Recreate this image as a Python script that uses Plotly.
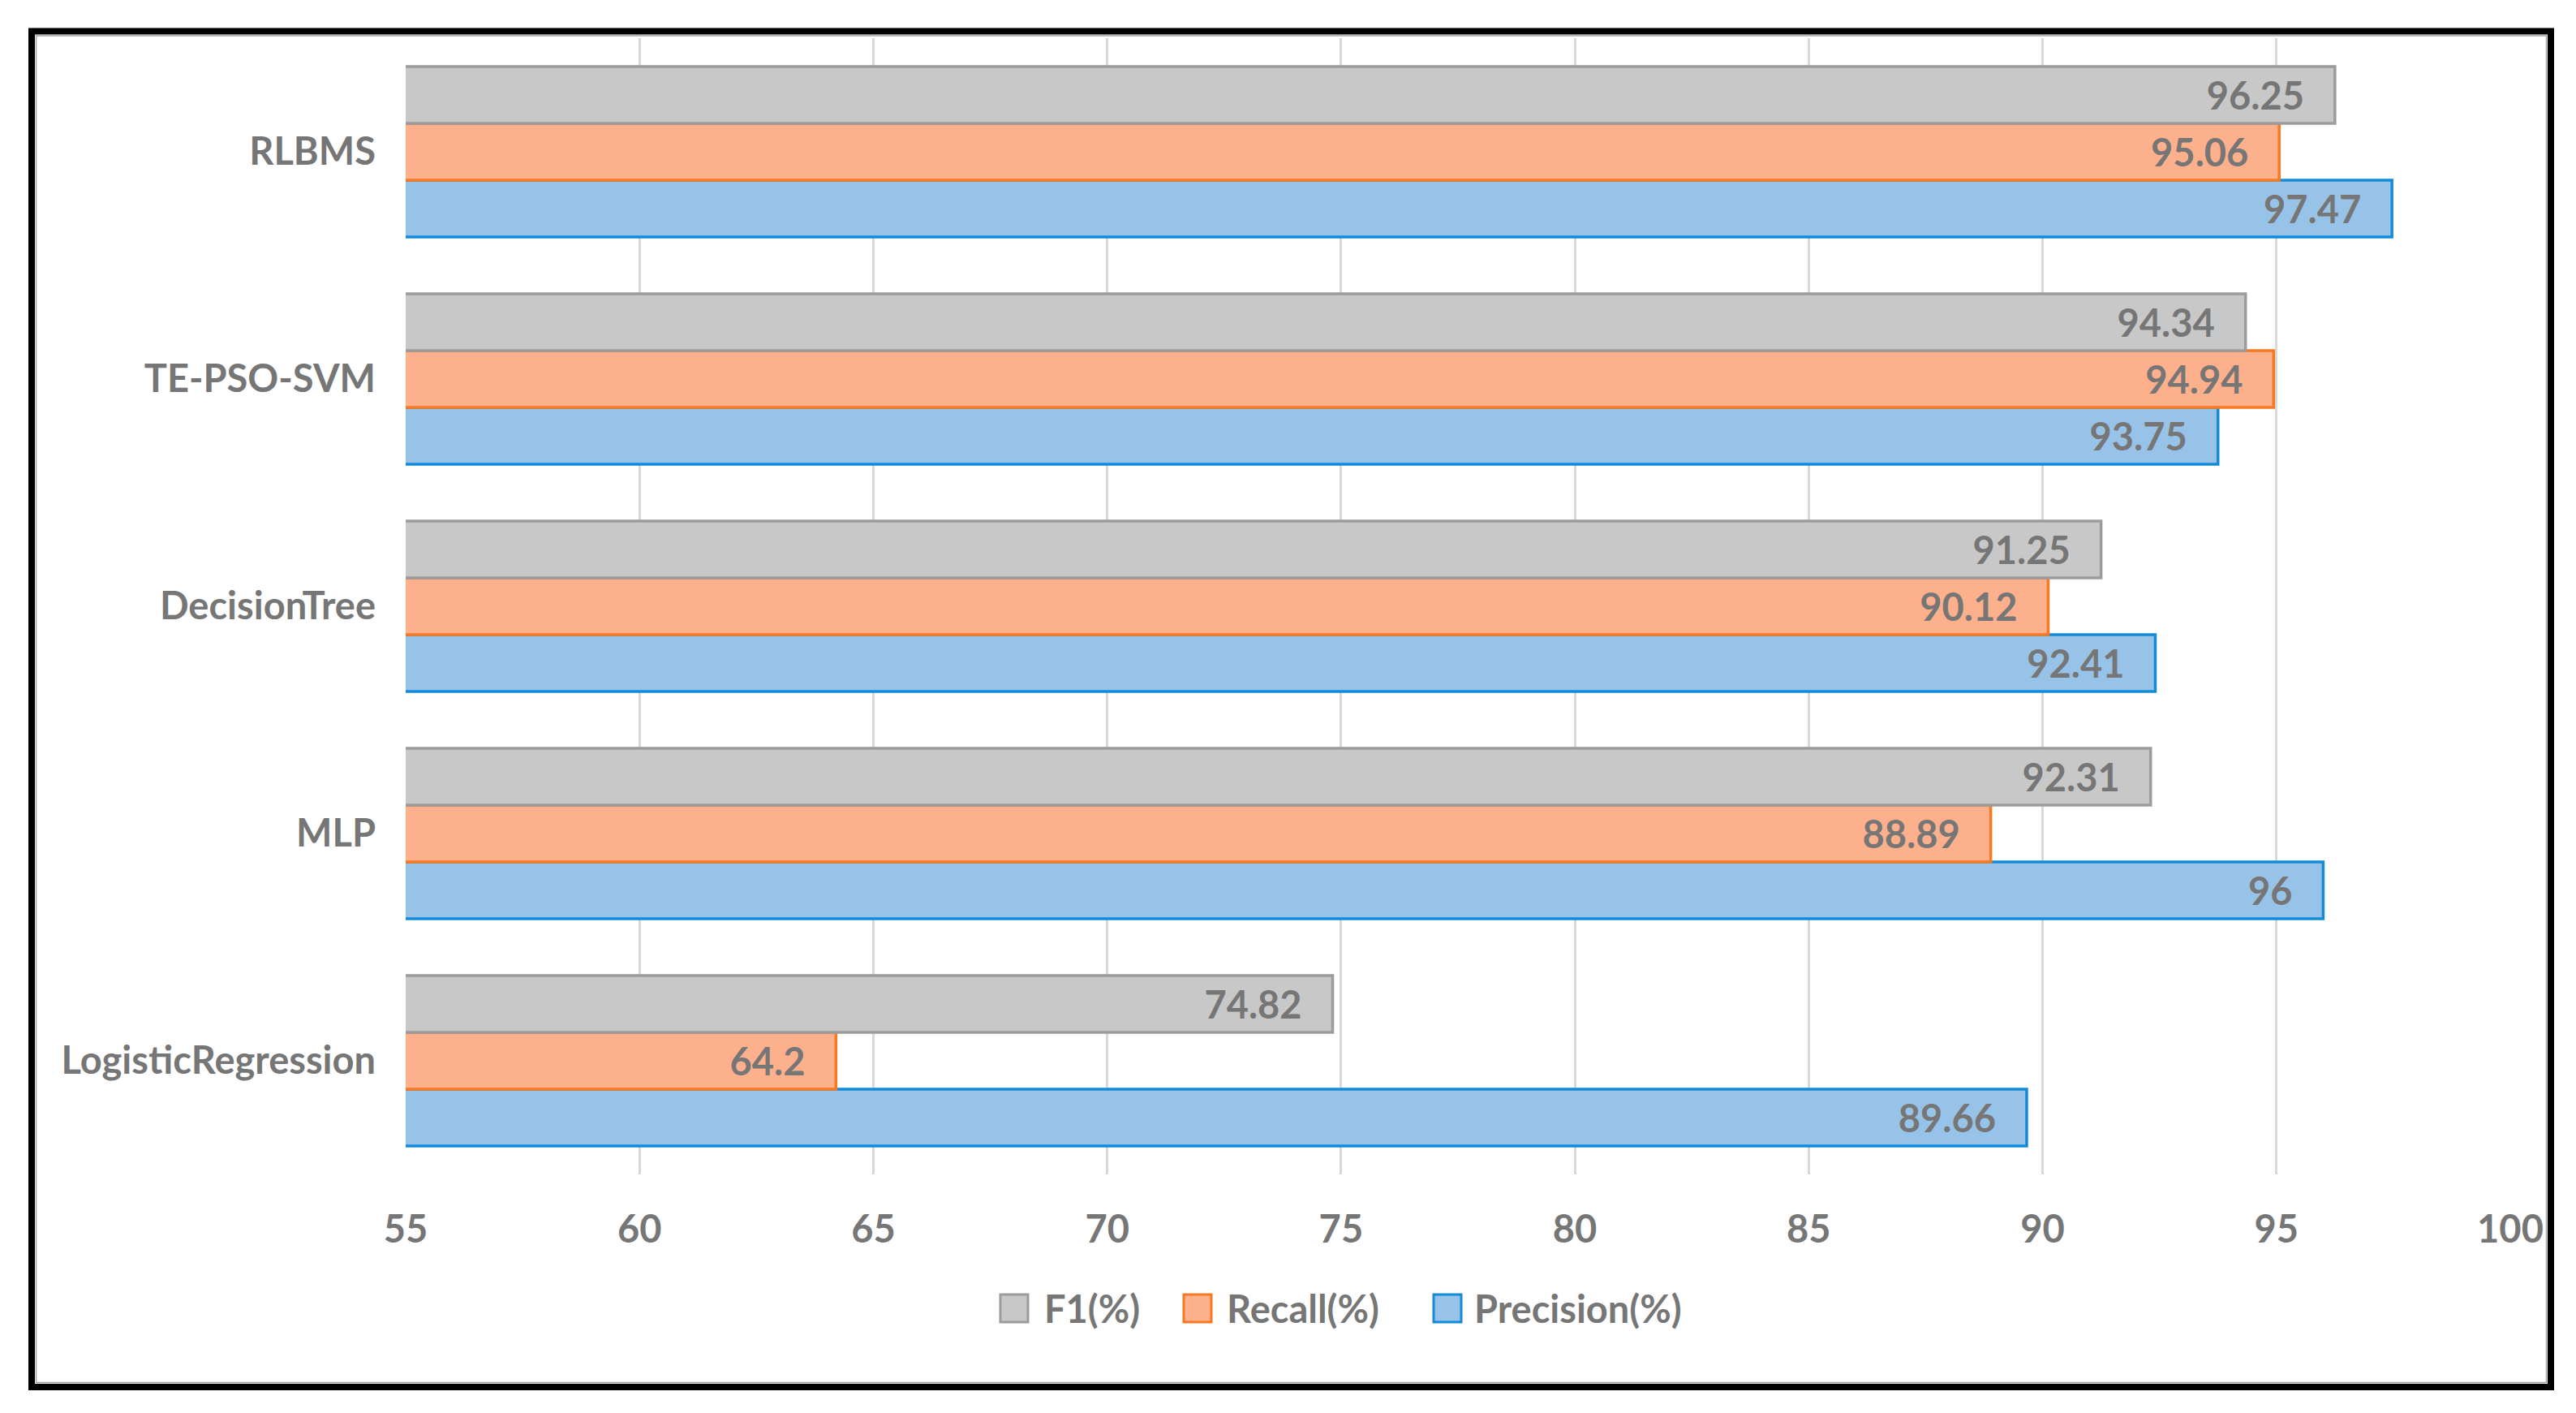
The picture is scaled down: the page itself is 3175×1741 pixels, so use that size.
import plotly.graph_objects as go

# ---- data ----
models = ["LogisticRegression", "MLP", "DecisionTree", "TE-PSO-SVM", "RLBMS"]
precision = [89.66, 96, 92.41, 93.75, 97.47]
recall = [64.2, 88.89, 90.12, 94.94, 95.06]
f1 = [74.82, 92.31, 91.25, 94.34, 96.25]
series_names = ["Precision(%)", "Recall(%)", "F1(%)"]
x_ticks = [55, 60, 65, 70, 75, 80, 85, 90, 95, 100]

# ---- style ----
OFF = 8  # browser body margin
W, H = 3175 - OFF, 1741 - OFF
L, R, T, B = 500 - OFF, 3094 - OFF, 47 - OFF, 1447 - OFF
FONT = "Lato"
TXT = "#767676"
FS = 47
fills = {"Precision(%)": "#98c3e8", "Recall(%)": "#fdb08c", "F1(%)": "#c8c8c8"}
edges = {"Precision(%)": "#138bd6", "Recall(%)": "#f57a22", "F1(%)": "#9c9c9c"}

fig = go.Figure()
for name, vals in zip(series_names, [precision, recall, f1]):
    fig.add_trace(go.Bar(
        y=models, x=vals, orientation="h", name=name,
        marker=dict(color=fills[name], line=dict(color=edges[name], width=3.5)),
        texttemplate="%{x}\u2002\u00a0", textposition="inside",
        insidetextanchor="end", textangle=0, constraintext="none",
        textfont=dict(family=FONT, size=FS, color=TXT, weight="bold"),
        showlegend=False,
    ))

# screen pixel -> paper coordinates
def px(x):
    return (x - OFF - L) / (R - L)

def py(y):
    return (B - (y - OFF)) / (B - T)

shapes = [
    dict(type="rect", xref="paper", yref="paper",
         x0=px(39), x1=px(3144), y0=py(38.5), y1=py(1709),
         line=dict(color="black", width=8), fillcolor="rgba(0,0,0,0)", layer="above"),
    dict(type="rect", xref="paper", yref="paper",
         x0=px(44.5), x1=px(3138.5), y0=py(44), y1=py(1703.5),
         line=dict(color="#a0a0a0", width=1.5), fillcolor="rgba(0,0,0,0)", layer="above"),
]
annotations = []
legend_items = [("F1(%)", 1233, 1285), ("Recall(%)", 1459, 1510), ("Precision(%)", 1767, 1815)]
for name, sx, tx in legend_items:
    shapes.append(dict(type="rect", xref="paper", yref="paper",
                       x0=px(sx), x1=px(sx + 34), y0=py(1629), y1=py(1595),
                       line=dict(color=edges[name], width=3), fillcolor=fills[name]))
    annotations.append(dict(text=name, xref="paper", yref="paper",
                            x=px(tx), y=py(1612), xanchor="left", yanchor="middle",
                            showarrow=False,
                            font=dict(family=FONT, size=FS, color=TXT, weight="bold")))

fig.update_layout(
    width=W, height=H,
    margin=dict(l=L, r=W - R, t=T, b=H - B, pad=0),
    paper_bgcolor="white", plot_bgcolor="white",
    barmode="group", bargap=0.25, bargroupgap=0,
    showlegend=False,
    shapes=shapes, annotations=annotations,
    xaxis=dict(range=[55, 100], tickvals=x_ticks, ticktext=[str(v) for v in x_ticks],
               showgrid=True, gridcolor="#d9d9d9", gridwidth=3,
               zeroline=False, showline=False, ticks="",
               ticklabelstandoff=36,
               tickfont=dict(family=FONT, size=FS, color=TXT, weight="bold")),
    yaxis=dict(categoryorder="array", categoryarray=models,
               showgrid=False, zeroline=False, showline=False, ticks="",
               ticklabelstandoff=36,
               tickfont=dict(family=FONT, size=FS, color=TXT, weight="bold")),
)

fig.write_html("out.html")
